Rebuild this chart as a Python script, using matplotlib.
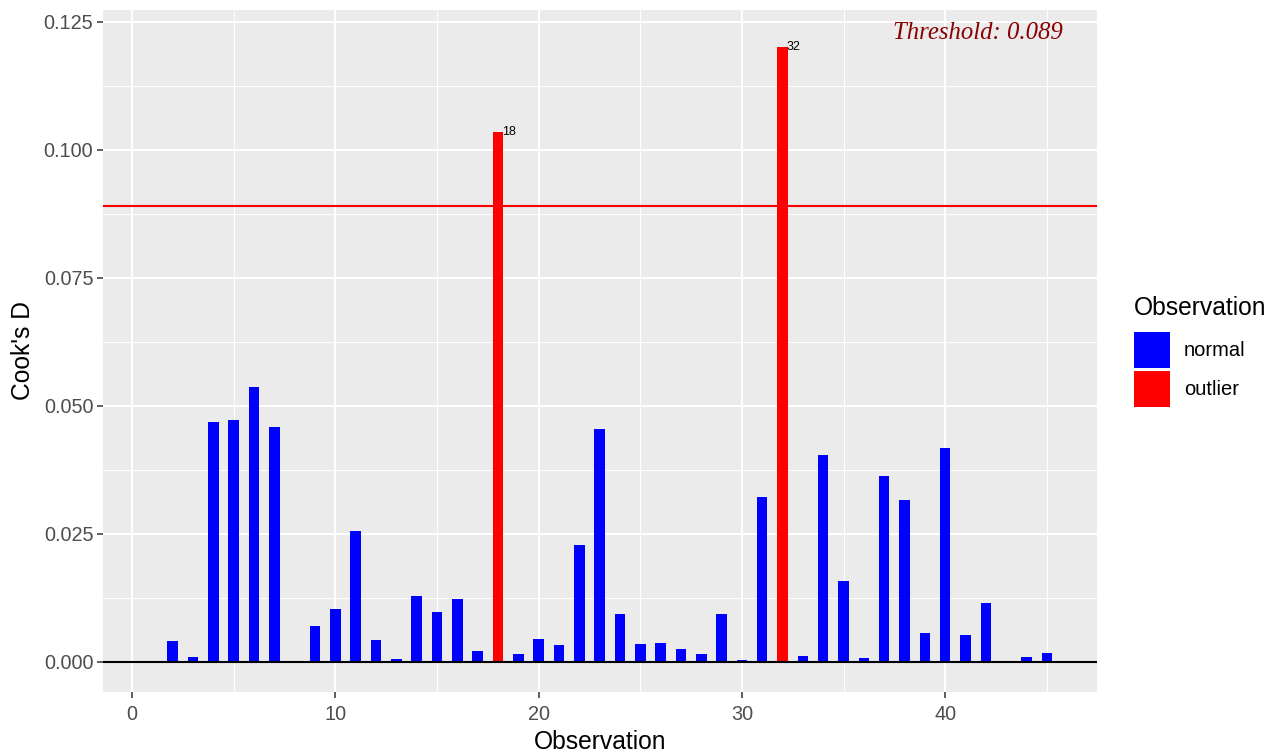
import matplotlib.pyplot as plt
from matplotlib.patches import Patch
from matplotlib.ticker import MultipleLocator

plt.rcParams['font.family'] = ['Liberation Sans', 'DejaVu Sans']

# Cook's distance per observation
obs = list(range(1, 46))
cooks_d = [0.0, 0.0041, 0.0010, 0.0469, 0.0473, 0.0537, 0.0459, 0.0, 0.0070, 0.0104,
           0.0256, 0.0043, 0.0006, 0.0129, 0.0098, 0.0123, 0.0021, 0.1035, 0.0016, 0.0045,
           0.0033, 0.0229, 0.0455, 0.0094, 0.0035, 0.0037, 0.0025, 0.0016, 0.0094, 0.0004,
           0.0322, 0.1201, 0.0012, 0.0404, 0.0158, 0.0008, 0.0363, 0.0316, 0.0057, 0.0418,
           0.0053, 0.0115, 0.0, 0.0010, 0.0018]
threshold = 0.089
y_ticks = [0.0, 0.025, 0.05, 0.075, 0.1, 0.125]
x_ticks = [0, 10, 20, 30, 40]

colors = ['#FF0000' if d > threshold else '#0000FF' for d in cooks_d]

fig = plt.figure(figsize=(12.86, 7.55), dpi=100)
ax = fig.add_axes([103/1286, 63/755, 994/1286, 682/755])
ax.set_facecolor('#EBEBEB')
for s in ax.spines.values():
    s.set_visible(False)

ax.set_xlim(-1.43, 47.47)
ax.set_ylim(-0.00586, 0.1273)
ax.set_xticks(x_ticks)
ax.set_yticks(y_ticks)
ax.set_yticklabels(['%.3f' % v for v in y_ticks])
ax.xaxis.set_minor_locator(MultipleLocator(5))
ax.yaxis.set_minor_locator(MultipleLocator(0.0125))
ax.grid(which='major', color='white', linewidth=1.5)
ax.grid(which='minor', color='white', linewidth=0.75)
ax.set_axisbelow(True)
ax.tick_params(which='major', length=4, width=1.1, color='#333333',
               labelcolor='#4D4D4D', labelsize=14.3, pad=3)
ax.tick_params(axis='x', pad=5)
ax.tick_params(which='minor', length=0)

ax.bar(obs, cooks_d, width=0.52, color=colors, zorder=2)
ax.axhline(0, color='black', linewidth=1.5, zorder=3)
ax.axhline(threshold, color='#FF0000', linewidth=1.5, zorder=3)

for o, d in zip(obs, cooks_d):
    if d > threshold:
        ax.text(o + 0.22, d, str(o), fontsize=9, ha='left', va='center', color='black', zorder=4)

ax.text(41.6, 0.1228, 'Threshold: %.3f' % threshold, family='Liberation Serif',
        style='italic', color='#8B0000', fontsize=17.8, ha='center', va='center')

ax.set_xlabel('Observation', fontsize=17.7, labelpad=5)
ax.set_ylabel("Cook's D", fontsize=17.7, labelpad=6)

# legend: title as separate text, keys below it
fig.text(1134/1286, 1 - 308/755, 'Observation', fontsize=17.7, ha='left', va='center')
handles = [Patch(facecolor='#0000FF', label='normal'),
           Patch(facecolor='#FF0000', label='outlier')]
fig.legend(handles=handles, loc='upper left',
           bbox_to_anchor=(1134/1286, 1 - 332/755), frameon=False, fontsize=14.5,
           handlelength=1.79, handleheight=2.38,
           handletextpad=0.7, labelspacing=0.15, borderpad=0, borderaxespad=0)

fig.savefig('out.png', dpi=100)
